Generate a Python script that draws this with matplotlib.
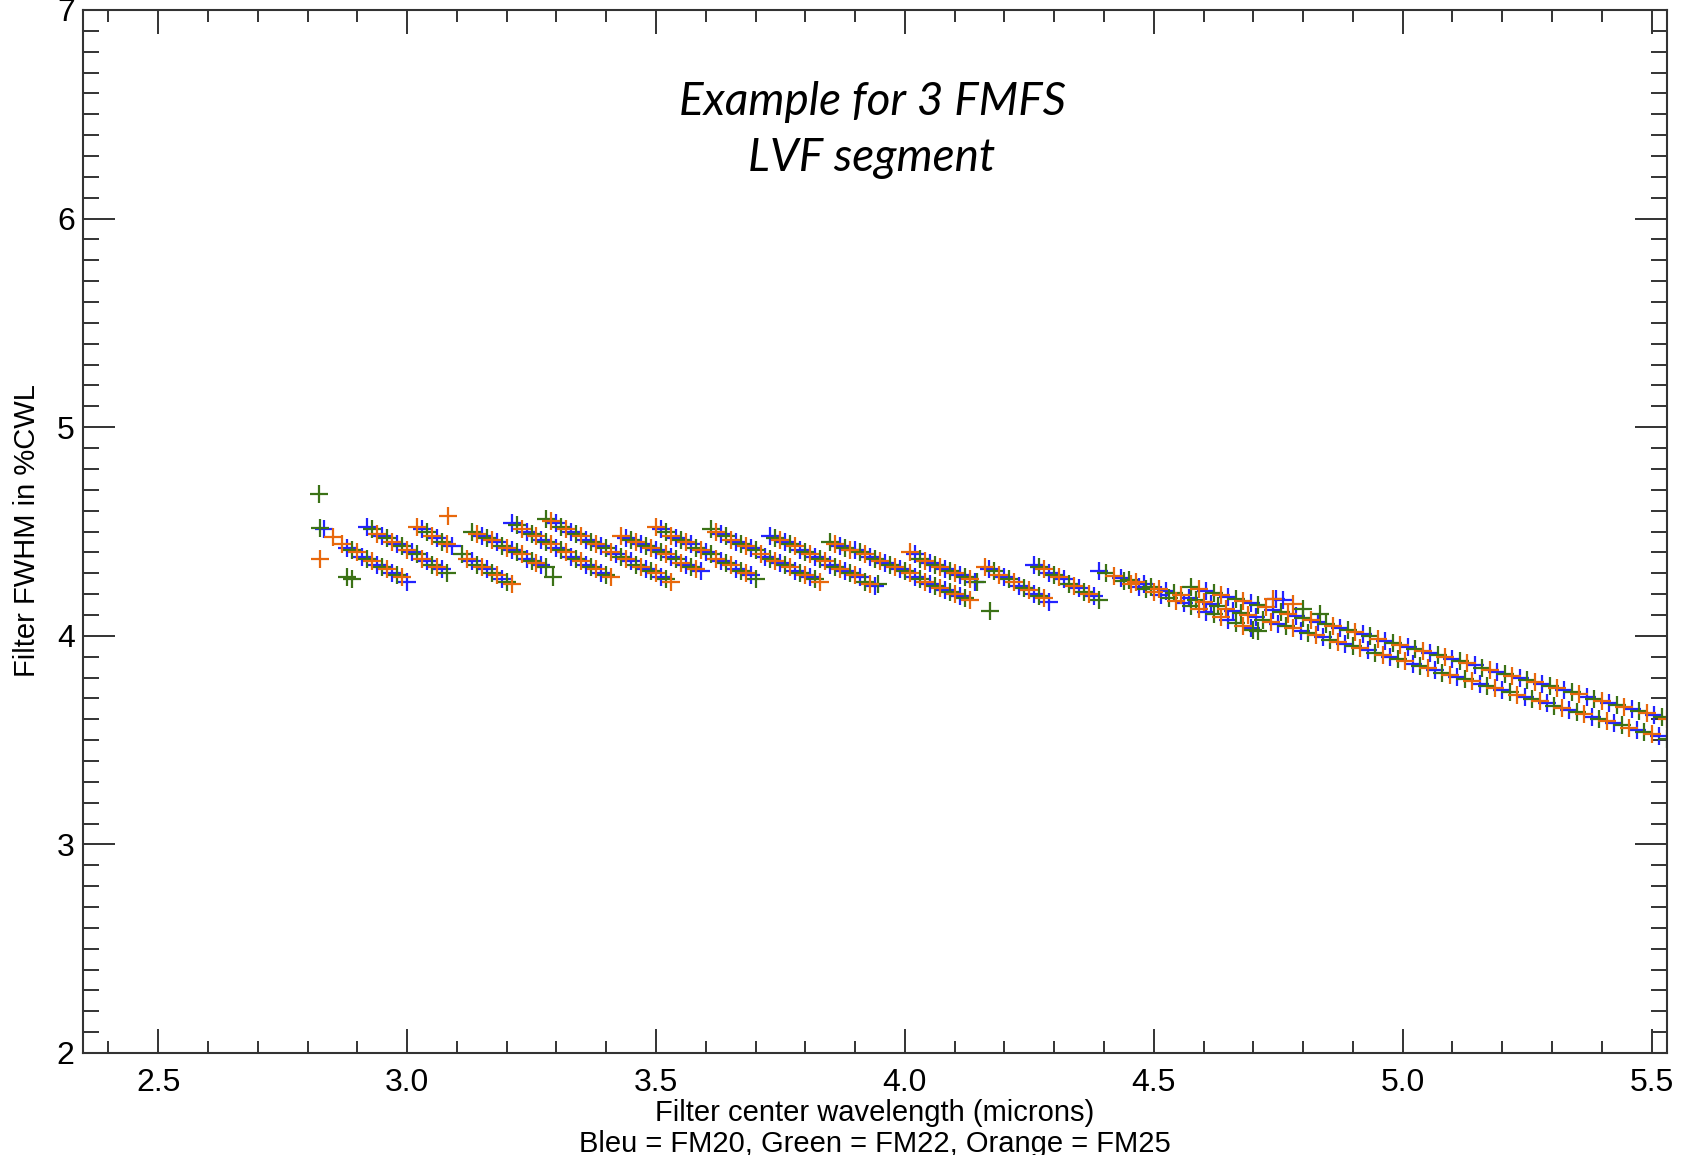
import numpy as np
import matplotlib
matplotlib.use("Agg")
from matplotlib import pyplot as plt
from matplotlib.ticker import MultipleLocator, FormatStrFormatter

# (CWL in microns, FWHM in %CWL) for each flight model
fm20_scans = [
    (2.833, 4.510),
    (2.88, 4.42), (2.91, 4.38), (2.94, 4.34), (2.97, 4.30), (3.00, 4.26),
    (2.92, 4.52), (2.95, 4.48), (2.98, 4.44), (3.01, 4.40), (3.04, 4.36), (3.07, 4.32),
    (3.03, 4.51), (3.06, 4.47), (3.09, 4.43),
    (3.13, 4.36), (3.16, 4.32), (3.19, 4.27),
    (3.15, 4.48), (3.18, 4.45), (3.21, 4.41), (3.24, 4.37), (3.27, 4.34),
    (3.21, 4.54), (3.24, 4.50), (3.27, 4.46), (3.30, 4.42), (3.33, 4.38), (3.36, 4.34), (3.39, 4.30),
    (3.30, 4.54), (3.33, 4.50), (3.36, 4.46), (3.39, 4.43), (3.42, 4.39), (3.45, 4.36), (3.48, 4.32), (3.51, 4.28),
    (3.44, 4.47), (3.47, 4.44), (3.50, 4.41), (3.53, 4.38), (3.56, 4.34), (3.59, 4.31),
    (3.51, 4.51), (3.54, 4.47), (3.57, 4.44), (3.60, 4.40), (3.63, 4.36), (3.66, 4.32), (3.69, 4.29),
    (3.63, 4.49), (3.66, 4.45), (3.69, 4.42), (3.72, 4.38), (3.75, 4.35), (3.78, 4.31), (3.81, 4.28),
    (3.73, 4.48), (3.76, 4.45), (3.79, 4.41), (3.82, 4.38), (3.85, 4.34), (3.88, 4.31), (3.91, 4.28), (3.94, 4.24),
    (3.87, 4.43), (3.90, 4.41), (3.93, 4.38), (3.96, 4.35),
    (3.99, 4.32), (4.02, 4.28), (4.05, 4.25), (4.08, 4.22), (4.11, 4.19),
    (4.02, 4.39), (4.05, 4.35), (4.08, 4.32), (4.11, 4.29), (4.14, 4.26),
    (4.17, 4.32), (4.20, 4.28), (4.23, 4.24), (4.26, 4.20), (4.29, 4.16),
    (4.26, 4.34), (4.29, 4.30), (4.32, 4.27), (4.35, 4.23), (4.38, 4.19),
]
fm20_bands = [
    (4.390, 4.310), (4.435, 4.278), (4.480, 4.247), (4.525, 4.215), (4.570, 4.183), (4.615, 4.152),
    (4.660, 4.120), (4.705, 4.088), (4.750, 4.056), (4.795, 4.025), (4.840, 3.993), (4.885, 3.961),
    (4.930, 3.930), (4.975, 3.898), (5.020, 3.866), (5.065, 3.835), (5.110, 3.803), (5.155, 3.771),
    (5.200, 3.739), (5.245, 3.708), (5.290, 3.676), (5.335, 3.644), (5.380, 3.613), (5.425, 3.581),
    (5.470, 3.549), (5.515, 3.518),
    (4.605, 4.215), (4.650, 4.185), (4.695, 4.156), (4.740, 4.126), (4.785, 4.096), (4.830, 4.066),
    (4.875, 4.036), (4.920, 4.007), (4.965, 3.977), (5.010, 3.947), (5.055, 3.917), (5.100, 3.888),
    (5.145, 3.858), (5.190, 3.828), (5.235, 3.798), (5.280, 3.768), (5.325, 3.739), (5.370, 3.709),
    (5.415, 3.679), (5.460, 3.649), (5.505, 3.620),
    (4.470, 4.235), (4.515, 4.196), (4.560, 4.156), (4.605, 4.116), (4.650, 4.076), (4.695, 4.036),
    (4.746, 4.177), (4.759, 4.170),
]

fm22_scans = [
    (2.823, 4.680), (2.825, 4.518), (2.880, 4.280), (2.890, 4.273),
    (2.89, 4.41), (2.92, 4.37), (2.95, 4.33), (2.98, 4.29),
    (2.93, 4.51), (2.96, 4.47), (2.99, 4.43), (3.02, 4.39), (3.05, 4.34), (3.08, 4.30),
    (3.04, 4.50), (3.07, 4.45),
    (3.11, 4.39), (3.14, 4.34), (3.17, 4.30), (3.20, 4.26),
    (3.13, 4.50), (3.16, 4.47), (3.19, 4.43), (3.22, 4.40), (3.25, 4.36), (3.28, 4.33),
    (3.22, 4.53), (3.25, 4.49), (3.28, 4.45), (3.31, 4.41), (3.34, 4.37), (3.37, 4.33), (3.40, 4.29),
    (3.28, 4.56), (3.31, 4.52), (3.34, 4.49), (3.37, 4.45), (3.40, 4.42), (3.43, 4.38), (3.46, 4.34), (3.49, 4.31), (3.52, 4.27),
    (3.293, 4.281),
    (3.45, 4.46), (3.48, 4.43), (3.51, 4.40), (3.54, 4.37), (3.57, 4.33),
    (3.52, 4.50), (3.55, 4.46), (3.58, 4.42), (3.61, 4.39), (3.64, 4.35), (3.67, 4.31), (3.70, 4.27),
    (3.61, 4.51), (3.64, 4.48), (3.67, 4.44), (3.70, 4.41), (3.73, 4.37), (3.76, 4.34), (3.79, 4.30), (3.82, 4.27),
    (3.74, 4.47), (3.77, 4.44), (3.80, 4.40), (3.83, 4.37), (3.86, 4.33), (3.89, 4.30), (3.92, 4.26), (3.946, 4.249),
    (3.85, 4.45), (3.88, 4.42), (3.91, 4.40), (3.94, 4.37), (3.97, 4.34),
    (4.00, 4.31), (4.03, 4.27), (4.06, 4.24), (4.09, 4.21), (4.12, 4.18),
    (4.03, 4.37), (4.06, 4.34), (4.09, 4.31), (4.12, 4.28), (4.145, 4.257),
    (4.171, 4.121),
    (4.18, 4.31), (4.21, 4.27), (4.24, 4.23), (4.27, 4.19),
    (4.27, 4.33), (4.30, 4.29), (4.33, 4.25), (4.36, 4.21), (4.39, 4.17),
]
fm22_bands = [
    (4.405, 4.299), (4.450, 4.268), (4.495, 4.236), (4.540, 4.204), (4.585, 4.173), (4.630, 4.141),
    (4.675, 4.109), (4.720, 4.078), (4.765, 4.046), (4.810, 4.014), (4.855, 3.982), (4.900, 3.951),
    (4.945, 3.919), (4.990, 3.887), (5.035, 3.856), (5.080, 3.824), (5.125, 3.792), (5.170, 3.761),
    (5.215, 3.729), (5.260, 3.697), (5.305, 3.665), (5.350, 3.634), (5.395, 3.602), (5.440, 3.570),
    (5.485, 3.539), (5.530, 3.507),
    (4.575, 4.235), (4.620, 4.205), (4.665, 4.175), (4.710, 4.146), (4.755, 4.116), (4.800, 4.086),
    (4.845, 4.056), (4.890, 4.027), (4.935, 3.997), (4.980, 3.967), (5.025, 3.937), (5.070, 3.907),
    (5.115, 3.878), (5.160, 3.848), (5.205, 3.818), (5.250, 3.788), (5.295, 3.758), (5.340, 3.729),
    (5.385, 3.699), (5.430, 3.669), (5.475, 3.639), (5.520, 3.610),
    (4.440, 4.262), (4.485, 4.222), (4.530, 4.182), (4.575, 4.142), (4.620, 4.103), (4.665, 4.063),
    (4.700, 4.030), (4.710, 4.023),
    (4.800, 4.129), (4.833, 4.105),
]

fm25_scans = [
    (2.852, 4.472), (2.826, 4.366), (3.083, 4.575),
    (2.87, 4.44), (2.90, 4.40), (2.93, 4.36), (2.96, 4.32), (2.99, 4.28),
    (2.94, 4.49), (2.97, 4.45), (3.00, 4.41), (3.03, 4.37), (3.06, 4.33),
    (3.02, 4.52), (3.05, 4.48), (3.08, 4.44),
    (3.12, 4.37), (3.15, 4.33), (3.18, 4.29), (3.21, 4.25),
    (3.14, 4.49), (3.17, 4.46), (3.20, 4.42), (3.23, 4.39), (3.26, 4.35),
    (3.23, 4.51), (3.26, 4.48), (3.29, 4.44), (3.32, 4.40), (3.35, 4.36), (3.38, 4.32), (3.41, 4.28),
    (3.29, 4.55), (3.32, 4.51), (3.35, 4.48), (3.38, 4.44), (3.41, 4.40), (3.44, 4.37), (3.47, 4.33), (3.50, 4.30), (3.53, 4.26),
    (3.43, 4.48), (3.46, 4.45), (3.49, 4.42), (3.52, 4.39), (3.55, 4.35), (3.58, 4.32),
    (3.50, 4.52), (3.53, 4.48), (3.56, 4.45), (3.59, 4.41), (3.62, 4.37), (3.65, 4.34), (3.68, 4.30),
    (3.62, 4.50), (3.65, 4.46), (3.68, 4.43), (3.71, 4.39), (3.74, 4.36), (3.77, 4.33), (3.80, 4.29), (3.83, 4.26),
    (3.75, 4.46), (3.78, 4.43), (3.81, 4.39), (3.84, 4.36), (3.87, 4.32), (3.90, 4.29), (3.93, 4.25),
    (3.86, 4.44), (3.89, 4.41), (3.92, 4.39), (3.95, 4.36), (3.98, 4.33),
    (4.01, 4.30), (4.04, 4.26), (4.07, 4.23), (4.10, 4.20), (4.13, 4.17),
    (4.01, 4.40), (4.04, 4.36), (4.07, 4.33), (4.10, 4.30), (4.13, 4.27),
    (4.16, 4.33), (4.19, 4.29), (4.22, 4.26), (4.25, 4.22), (4.28, 4.18),
    (4.28, 4.32), (4.31, 4.28), (4.34, 4.24), (4.37, 4.20),
]
fm25_bands = [
    (4.420, 4.289), (4.465, 4.257), (4.510, 4.225), (4.555, 4.194), (4.600, 4.162), (4.645, 4.130),
    (4.690, 4.099), (4.735, 4.067), (4.780, 4.035), (4.825, 4.004), (4.870, 3.972), (4.915, 3.940),
    (4.960, 3.909), (5.005, 3.877), (5.050, 3.845), (5.095, 3.813), (5.140, 3.782), (5.185, 3.750),
    (5.230, 3.718), (5.275, 3.687), (5.320, 3.655), (5.365, 3.623), (5.410, 3.592), (5.455, 3.560),
    (5.500, 3.528),
    (4.590, 4.225), (4.635, 4.195), (4.680, 4.166), (4.725, 4.136), (4.770, 4.106), (4.815, 4.076),
    (4.860, 4.046), (4.905, 4.017), (4.950, 3.987), (4.995, 3.957), (5.040, 3.927), (5.085, 3.897),
    (5.130, 3.868), (5.175, 3.838), (5.220, 3.808), (5.265, 3.778), (5.310, 3.749), (5.355, 3.719),
    (5.400, 3.689), (5.445, 3.659), (5.490, 3.629), (5.530, 3.603),
    (4.455, 4.249), (4.500, 4.209), (4.545, 4.169), (4.590, 4.129), (4.635, 4.089), (4.680, 4.049),
    (4.740, 4.178), (4.779, 4.153),
]

series = [
    (fm20_scans + fm20_bands, "#2323ff"),
    (fm22_scans + fm22_bands, "#3b7216"),
    (fm25_scans + fm25_bands, "#e8680c"),
]

plt.rcParams["font.family"] = ["Liberation Sans", "DejaVu Sans"]
axis_col = "#333333"

fig = plt.figure(figsize=(16.88, 11.55), dpi=100)
ax = fig.add_axes([83 / 1688, 1 - 1053 / 1155, (1667 - 83) / 1688, (1053 - 10) / 1155])

for pts, col in series:
    arr = np.array(pts)
    ax.plot(arr[:, 0], arr[:, 1], linestyle="none", marker="+",
            markersize=12.5, markeredgewidth=1.6, color=col)

ax.set_xlim(2.349, 5.531)
ax.set_ylim(2, 7)
ax.xaxis.set_major_locator(MultipleLocator(0.5))
ax.xaxis.set_minor_locator(MultipleLocator(0.1))
ax.yaxis.set_major_locator(MultipleLocator(1))
ax.yaxis.set_minor_locator(MultipleLocator(0.1))
ax.xaxis.set_major_formatter(FormatStrFormatter("%.1f"))

ax.tick_params(which="both", direction="in", top=True, right=True,
               width=1.4, color=axis_col, labelsize=23)
ax.tick_params(axis="x", which="major", length=17, pad=11)
ax.tick_params(axis="x", which="minor", length=8.5)
ax.tick_params(axis="y", which="major", length=23, pad=6)
ax.tick_params(axis="y", which="minor", length=11.5)
for s in ax.spines.values():
    s.set_linewidth(1.5)
    s.set_color(axis_col)

fig.text(875 / 1688, 1 - 1121 / 1155, "Filter center wavelength (microns)",
         ha="center", va="baseline", fontsize=21)
fig.text(875 / 1688, 1 - 1152 / 1155, "Bleu = FM20, Green = FM22, Orange = FM25",
         ha="center", va="baseline", fontsize=21)
fig.text(27 / 1688, 1 - 531 / 1155, "Filter FWHM in %CWL", rotation=90,
         ha="center", va="center", fontsize=21)

fig.text(872 / 1688, 1 - 115 / 1155, "Example for 3 FMFS", ha="center", va="baseline",
         fontsize=33, family="Lato", style="italic")
fig.text(872 / 1688, 1 - 171 / 1155, "LVF segment", ha="center", va="baseline",
         fontsize=33, family="Lato", style="italic")

fig.savefig("out.png", dpi=100)
